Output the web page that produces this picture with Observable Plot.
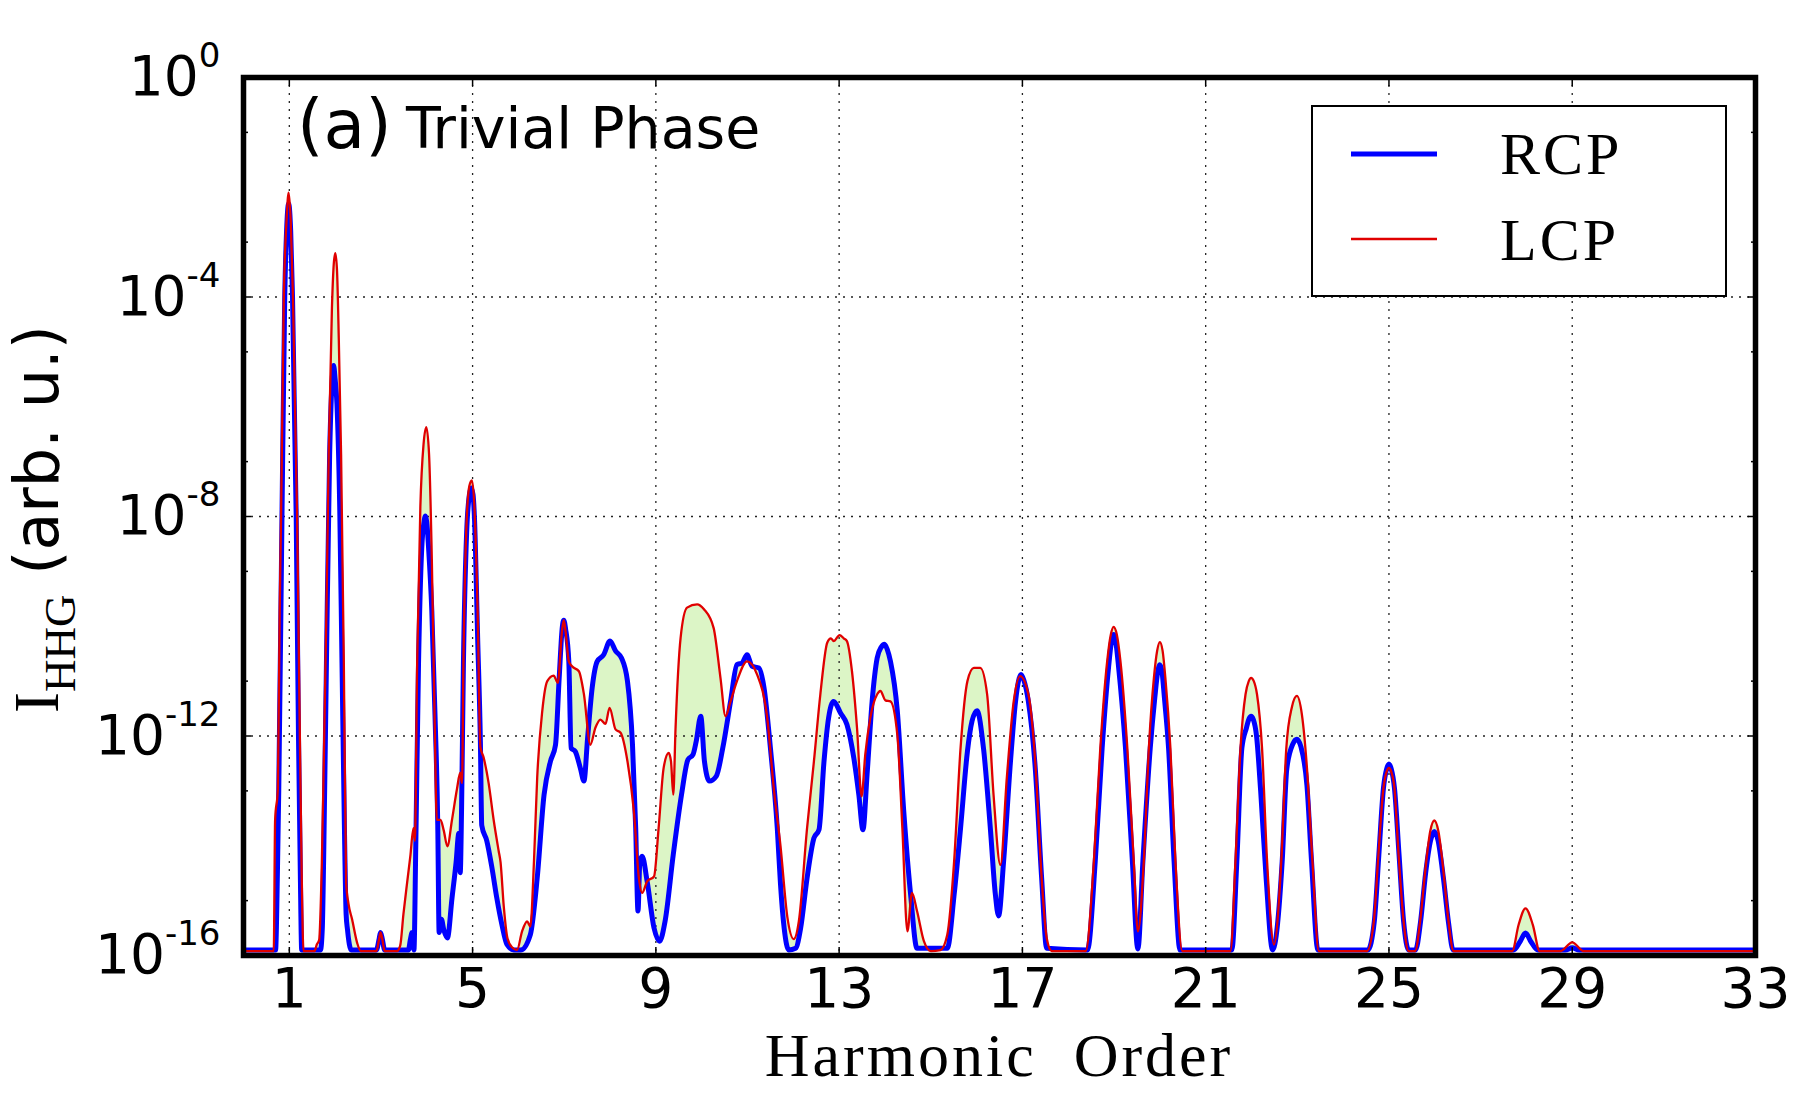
<!DOCTYPE html>
<html><head><meta charset="utf-8">
<script src="https://cdn.jsdelivr.net/npm/d3@7"></script>
<script src="https://cdn.jsdelivr.net/npm/@observablehq/plot@0.6"></script>
<style>html,body{margin:0;padding:0;background:#fff;overflow:hidden}</style>
</head><body><div id="chart"></div>
<script>
// ---- Data (harmonic order, log10 of intensity) ----
const rcpOrder = [0.00,0.70,0.74,0.77,0.84,0.90,0.94,0.985,1.03,1.07,1.15,1.20,1.24,1.27,
1.68,1.72,1.75,1.81,1.88,1.93,1.967,2.00,2.04,2.10,2.15,2.20,2.24,2.27,2.35,
2.90,2.96,2.99,3.03,3.08,
3.60,3.64,3.68,3.72,3.76,3.82,3.89,3.94,3.97,4.00,4.04,4.11,4.18,4.24,4.27,4.32,4.37,4.45,4.55,4.64,4.70,4.73,4.76,4.80,4.87,4.93,4.97,5.01,5.04,5.11,5.17,5.20,5.31,5.42,5.53,5.64,5.75,5.90,6.05,6.26,6.41,6.56,6.70,6.81,6.89,6.96,6.99,7.03,7.10,7.15,7.24,7.35,7.43,7.51,7.61,7.72,7.86,8.00,8.12,8.25,8.38,8.49,8.56,8.61,8.65,8.70,8.81,8.96,9.08,9.20,9.38,9.56,9.70,9.81,9.88,9.98,10.06,10.17,10.32,10.46,10.63,10.77,10.88,10.99,11.10,11.25,11.36,11.50,11.65,11.72,11.80,11.90,12.05,12.16,12.30,12.45,12.56,12.67,12.77,12.88,13.03,13.17,13.32,13.43,13.52,13.61,13.72,13.83,13.92,13.99,14.05,14.12,14.27,14.41,14.56,14.70,15.36,15.51,15.65,15.80,15.90,16.01,16.15,16.30,16.41,16.48,16.59,16.74,16.85,16.92,16.97,17.03,17.13,17.28,17.42,17.53,
18.42,18.59,18.74,18.88,18.94,18.99,19.04,19.10,19.25,19.40,19.52,19.63,19.79,19.89,19.95,20.00,20.05,20.10,20.19,20.31,20.44,
21.57,21.68,21.79,21.89,21.95,21.99,22.04,22.11,22.20,22.32,22.46,22.67,22.77,22.90,22.99,23.08,23.21,23.31,23.45,
24.54,24.68,24.78,24.88,24.95,25.00,25.05,25.12,25.22,25.32,25.43,25.58,25.69,25.80,25.91,25.99,26.07,26.19,26.30,26.40,
27.72,27.86,27.98,28.10,28.25,28.85,29.00,29.15,33.00];
const rcpLog10 = [-15.90,-15.90,-14.5,-12.96,-8.0,-4.0,-2.8,-2.30,-2.8,-4.0,-8.0,-12.0,-14.5,-15.90,
-15.90,-15.5,-14.2,-10.68,-6.87,-5.6,-5.25,-5.5,-5.96,-7.82,-10.68,-13.53,-15.25,-15.53,-15.90,
-15.90,-15.7,-15.58,-15.7,-15.90,
-15.90,-15.72,-15.58,-15.90,-14.01,-10.68,-8.58,-8.1,-7.99,-8.1,-8.58,-9.72,-11.63,-13.63,-15.58,-15.34,-15.53,-15.68,-14.96,-14.30,-13.77,-14.49,-13.3,-10.68,-8.30,-7.6,-7.48,-7.6,-8.01,-10.20,-12.10,-13.63,-13.91,-14.39,-14.96,-15.44,-15.80,-15.90,-15.90,-15.62,-14.59,-13.07,-12.46,-12.16,-10.94,-10.0,-9.89,-10.05,-10.64,-12.22,-12.28,-12.58,-12.82,-12.04,-11.12,-10.64,-10.52,-10.27,-10.45,-10.58,-11.0,-12.16,-13.68,-15.19,-14.3,-14.19,-14.65,-15.50,-15.74,-15.38,-14.16,-13.07,-12.43,-12.34,-12.10,-11.64,-12.46,-12.82,-12.73,-12.22,-11.37,-10.70,-10.67,-10.52,-10.73,-10.76,-11.12,-12.22,-13.68,-14.7,-15.5,-15.90,-15.87,-15.50,-14.59,-13.86,-13.71,-12.46,-11.67,-11.37,-11.58,-11.79,-12.40,-13.07,-13.71,-12.70,-11.37,-10.58,-10.38,-10.33,-10.42,-10.64,-11.55,-13.37,-14.89,-15.87,-15.87,-14.89,-13.68,-12.28,-11.73,-11.54,-12.22,-13.68,-14.89,-15.28,-14.28,-12.46,-11.37,-10.98,-10.88,-10.98,-11.37,-12.58,-14.59,-15.87,
-15.90,-14.28,-12.22,-10.75,-10.3,-10.15,-10.3,-10.75,-12.22,-14.28,-15.88,-14.28,-12.22,-11.3,-10.85,-10.70,-10.85,-11.31,-12.22,-14.28,-15.90,
-15.90,-14.28,-12.22,-11.85,-11.68,-11.64,-11.7,-12.0,-13.0,-14.6,-15.90,-14.28,-12.6,-12.15,-12.06,-12.2,-12.9,-14.28,-15.90,
-15.90,-15.38,-14.16,-12.95,-12.6,-12.51,-12.6,-12.95,-14.16,-15.38,-15.90,-15.90,-15.38,-14.5,-13.9,-13.74,-13.9,-14.6,-15.4,-15.90,
-15.90,-15.75,-15.59,-15.75,-15.90,-15.90,-15.86,-15.90,-15.90];

const lcpOrder = [0.00,0.66,0.69,0.75,0.79,0.82,0.88,0.94,0.985,1.03,1.08,1.17,1.23,1.27,1.31,
1.55,1.60,1.65,1.71,1.75,1.81,1.86,1.93,1.97,2.004,2.04,2.08,2.13,2.19,2.24,2.29,2.37,2.48,2.56,
2.90,2.96,2.99,3.03,3.08,
3.35,3.42,3.49,3.57,3.64,3.71,3.74,3.79,3.86,3.93,3.99,4.05,4.11,4.17,4.22,4.30,4.37,4.45,4.55,4.66,4.73,4.77,4.80,4.86,4.93,4.985,5.04,5.11,5.17,5.24,5.35,5.46,5.57,5.61,5.68,5.76,5.86,5.97,6.08,6.19,6.26,6.34,6.41,6.52,6.63,6.77,6.86,6.95,6.99,7.03,7.10,7.17,7.32,7.43,7.57,7.68,7.79,7.90,7.99,8.12,8.23,8.38,8.52,8.63,8.70,8.81,8.96,9.06,9.17,9.28,9.33,9.38,9.43,9.54,9.68,9.90,10.05,10.26,10.41,10.52,10.63,10.77,10.99,11.21,11.43,11.58,11.72,11.87,12.01,12.12,12.30,12.45,12.59,12.74,12.82,12.88,13.01,13.10,13.17,13.28,13.39,13.49,13.57,13.68,13.83,13.90,14.01,14.12,14.27,14.38,14.49,14.59,14.70,14.85,15.00,15.21,15.36,15.51,15.65,15.80,15.94,16.08,16.23,16.37,16.52,16.66,16.81,16.95,17.13,17.28,17.42,17.53,17.64,
18.38,18.56,18.70,18.85,18.93,18.99,19.06,19.14,19.29,19.43,19.52,19.65,19.76,19.87,19.94,20.00,20.06,20.12,20.23,20.34,20.49,
21.54,21.65,21.76,21.87,21.94,21.99,22.05,22.12,22.23,22.34,22.49,22.65,22.76,22.88,22.99,23.10,23.21,23.33,23.47,
24.52,24.67,24.77,24.88,24.95,25.00,25.05,25.12,25.21,25.32,25.43,25.57,25.68,25.79,25.90,25.99,26.08,26.19,26.30,26.41,
27.69,27.83,27.98,28.14,28.29,28.74,29.00,29.25,33.00];
const lcpLog10 = [-15.92,-15.92,-13.53,-12.96,-9.72,-8.0,-4.0,-2.6,-2.10,-2.6,-4.0,-8.0,-12.0,-14.5,-15.92,
-15.92,-15.80,-15.72,-14.30,-12.58,-9.72,-6.87,-4.2,-3.4,-3.20,-3.5,-4.77,-6.87,-10.68,-14.68,-15.05,-15.34,-15.77,-15.92,
-15.92,-15.7,-15.58,-15.7,-15.92,
-15.92,-15.82,-15.25,-14.68,-14.2,-13.68,-13.91,-10.68,-7.82,-6.68,-6.37,-6.87,-8.77,-11.63,-13.53,-13.53,-13.72,-14.01,-13.53,-12.96,-12.67,-12.86,-10.68,-8.30,-7.44,-7.34,-7.82,-9.72,-12.20,-12.39,-12.86,-13.53,-14.1,-14.3,-15.1,-15.68,-15.85,-15.9,-15.56,-15.38,-15.47,-14.28,-12.76,-11.55,-11.0,-10.9,-11.03,-10.1,-9.89,-10.1,-10.64,-10.73,-10.82,-11.24,-12.16,-11.85,-11.70,-11.78,-11.49,-11.88,-11.94,-12.46,-13.37,-14.59,-14.86,-14.65,-14.56,-13.68,-12.58,-12.31,-12.46,-13.07,-11.85,-10.21,-9.66,-9.60,-9.69,-10.03,-10.94,-11.64,-11.37,-11.0,-10.64,-10.88,-11.67,-13.01,-14.0,-15.3,-15.70,-15.38,-13.68,-12.46,-11.24,-10.30,-10.22,-10.27,-10.16,-10.22,-10.27,-10.82,-11.85,-13.10,-12.34,-11.67,-11.24,-11.18,-11.35,-11.37,-11.98,-13.68,-15.56,-14.86,-15.19,-15.74,-15.92,-15.90,-15.62,-14.28,-12.22,-11.0,-10.76,-10.76,-11.24,-13.07,-14.35,-12.76,-11.37,-10.91,-11.24,-12.46,-14.59,-15.68,-15.92,
-15.92,-14.28,-12.22,-10.64,-10.15,-10.01,-10.15,-10.64,-12.22,-14.28,-15.56,-14.28,-12.22,-10.94,-10.45,-10.29,-10.45,-10.94,-12.22,-14.28,-15.92,
-15.92,-14.28,-12.22,-11.24,-11.0,-10.94,-11.0,-11.24,-12.22,-14.28,-15.8,-14.28,-12.22,-11.48,-11.27,-11.61,-12.58,-14.28,-15.92,
-15.92,-15.38,-14.16,-12.95,-12.65,-12.58,-12.65,-12.95,-14.16,-15.38,-15.92,-15.92,-15.38,-14.47,-13.74,-13.54,-13.74,-14.47,-15.38,-15.92,
-15.92,-15.44,-15.14,-15.44,-15.92,-15.92,-15.76,-15.92,-15.92];

const seriesNames = ["RCP", "LCP"];
const seriesColors = ["#0000ff", "#e00000"];
const xTickLabels = [1, 5, 9, 13, 17, 21, 25, 29, 33];
const xGridLines = [1, 5, 9, 13, 17, 21, 25, 29];
const yLabelExps = [0, -4, -8, -12, -16];
const yGridExps = [-4, -8, -12];
const yMinorExps = [-1, -3, -5, -7, -9, -11, -13, -15];
const panelTag = "(a)";
const panelTitle = "Trivial Phase";

// ---- Build tables ----
const rcp = rcpOrder.map((h, i) => ({h, v: Math.pow(10, rcpLog10[i])}));
const lcp = lcpOrder.map((h, i) => ({h, v: Math.pow(10, lcpLog10[i])}));
const band = rcp.concat(lcp.slice().reverse());
const pow = e => Math.pow(10, e);
const curve = "monotone-x";

const tickStyle = {stroke: "black", strokeWidth: 1.5, tickFormat: () => "", label: null};

const svg = Plot.plot({
  width: 1800, height: 1111,
  marginLeft: 243, marginRight: 45, marginTop: 77, marginBottom: 156,
  style: {fontFamily: "DejaVu Sans", background: "white", color: "black"},
  x: {domain: [0, 33]},
  y: {type: "log", domain: [1e-16, 1]},
  marks: [
    Plot.line(band, {x: "h", y: "v", fill: "#dcf5c6", stroke: "none", clip: true, curve}),
    Plot.ruleX(xGridLines, {stroke: "#222", strokeWidth: 1.3, strokeDasharray: "2,6"}),
    Plot.ruleY(yGridExps.map(pow), {stroke: "#222", strokeWidth: 1.3, strokeDasharray: "2,6"}),
    Plot.line(rcp, {x: "h", y: "v", stroke: seriesColors[0], strokeWidth: 5, clip: true, strokeLinejoin: "round", curve}),
    Plot.line(lcp, {x: "h", y: "v", stroke: seriesColors[1], strokeWidth: 2.3, clip: true, strokeLinejoin: "round", curve}),
    Plot.axisX(xTickLabels, {anchor: "bottom", tickSize: 0, tickPadding: 12, fontSize: 55, label: null, tickFormat: d => String(d)}),
    Plot.axisX(xGridLines, {anchor: "bottom", tickSize: -8, ...tickStyle}),
    Plot.axisX(xGridLines, {anchor: "top", tickSize: -8, ...tickStyle}),
    Plot.axisY(yLabelExps.map(pow), {anchor: "left", tickSize: 0, tickPadding: 23, fontSize: 55, label: null,
      tickFormat: d => "10^" + Math.round(Math.log10(d))}),
    Plot.axisY(yGridExps.map(pow), {anchor: "left", tickSize: -8, ...tickStyle}),
    Plot.axisY(yMinorExps.map(pow), {anchor: "left", tickSize: -5, ...tickStyle}),
    Plot.axisY(yGridExps.map(pow), {anchor: "right", tickSize: -8, ...tickStyle}),
    Plot.axisY(yMinorExps.map(pow), {anchor: "right", tickSize: -5, ...tickStyle}),
    Plot.frame({stroke: "black", strokeWidth: 5.5})
  ]
});

const root = d3.select(svg);
// superscript exponents on y tick labels
root.selectAll('g[aria-label="y-axis tick label"] text').each(function() {
  const parts = this.textContent.split("^");
  if (parts.length < 2) return;
  const t = d3.select(this);
  t.text(parts[0]);
  t.append("tspan").attr("font-size", 34).attr("dy", -28).text(parts[1]);
});

// panel title
root.append("text").attr("x", 297).attr("y", 148).attr("text-anchor", "start").attr("font-family", "DejaVu Sans")
  .attr("font-size", 68).attr("fill", "black").text(panelTag);
root.append("text").attr("x", 406).attr("y", 148).attr("text-anchor", "start").attr("font-family", "DejaVu Sans")
  .attr("font-size", 57).attr("fill", "black").text(panelTitle);

// x label
root.append("text").attr("x", 999).attr("y", 1076).attr("text-anchor", "middle")
  .attr("font-family", "Liberation Serif").attr("font-size", 62).attr("letter-spacing", 3)
  .attr("fill", "black").text("Harmonic\u00a0\u00a0Order");

// y label
const yl = root.append("text").attr("transform", "translate(58,713) rotate(-90)")
  .attr("text-anchor", "start").attr("fill", "black");
yl.append("tspan").attr("font-family", "Liberation Serif").attr("font-size", 63).text("I");
yl.append("tspan").attr("font-family", "Liberation Serif").attr("font-size", 45).attr("dy", 17).text("HHG");
yl.append("tspan").attr("font-family", "DejaVu Sans").attr("font-size", 62).attr("dy", -17).text("\u00a0(arb. u.)");

// legend
const lg = root.append("g").attr("text-anchor", "start");
lg.append("rect").attr("x", 1312).attr("y", 106).attr("width", 414).attr("height", 190)
  .attr("fill", "white").attr("stroke", "black").attr("stroke-width", 2);
const legendY = [154, 239], legendW = [5, 2.5], legendTextY = [174, 260];
seriesNames.forEach((name, i) => {
  lg.append("line").attr("x1", 1351).attr("x2", 1437).attr("y1", legendY[i]).attr("y2", legendY[i])
    .attr("stroke", seriesColors[i]).attr("stroke-width", legendW[i]);
  lg.append("text").attr("x", 1500).attr("y", legendTextY[i]).attr("text-anchor", "start")
    .attr("font-family", "Liberation Serif").attr("font-size", 60).attr("letter-spacing", 3)
    .attr("fill", "black").text(name);
});

document.getElementById("chart").append(svg);
</script>
</body></html>
